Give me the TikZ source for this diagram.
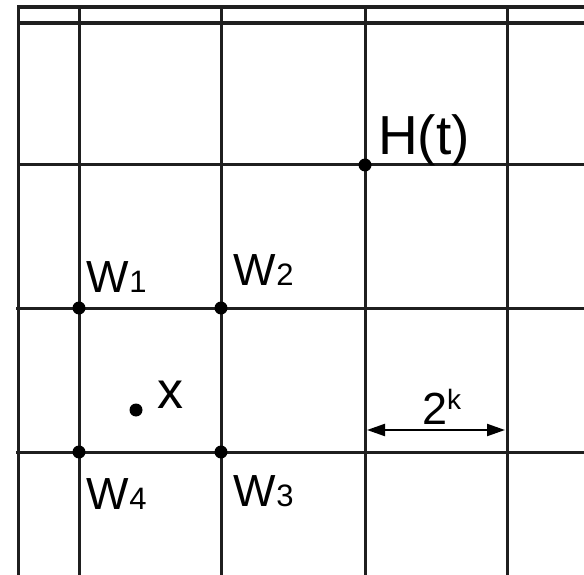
\documentclass[tikz,border=0pt]{standalone}
\usepackage{fontspec}
\setmainfont{Liberation Sans}
\usetikzlibrary{arrows.meta}
\begin{document}
\begin{tikzpicture}[x=1pt,y=-1pt,
  gridline/.style={line width=3.4pt, black!88},
  thinline/.style={line width=3pt, black!88},
  dotpt/.style={circle, fill=black, inner sep=0pt, minimum size=13pt},
  lbl/.style={anchor=base west, inner sep=0pt, outer sep=0pt},
  big/.style={font=\fontsize{45}{45}\selectfont},
  dimarrow/.style={line width=2.2pt, {Triangle[length=18pt,width=12pt]}-{Triangle[length=18pt,width=12pt]}},
]
\useasboundingbox (0,0) rectangle (584,575);
\fill[white] (0,0) rectangle (584,575);
% top double rule
\draw[gridline] (17,7) -- (584,7);
\draw[gridline] (17,23) -- (584,23);
% horizontal grid lines
\draw[thinline] (18,165) -- (584,165);
\draw[thinline] (16,308) -- (584,308);
\draw[thinline] (16,452) -- (584,452);
% vertical grid lines
\foreach \xx in {18,79,221,365,507}
  \draw[thinline] (\xx,5.5) -- (\xx,575);
% grid points
\node[dotpt] (h) at (365,165) {};
\node[dotpt] (w1) at (79,308) {};
\node[dotpt] (w2) at (221,308) {};
\node[dotpt] (w3) at (221,452) {};
\node[dotpt] (w4) at (79,452) {};
\node[dotpt] (xp) at (136,410) {};
% labels
\node[lbl, font=\fontsize{55}{55}\selectfont] (hl) at (378,155) {H(t)};
\node[lbl, big] (l1) at (86,292) {W\kern1pt\fontsize{31}{31}\selectfont 1};
\node[lbl, big] (l2) at (233,285) {W\kern1pt\fontsize{31}{31}\selectfont 2};
\node[lbl, big] (l4) at (86,509) {W\kern1pt\fontsize{31}{31}\selectfont 4};
\node[lbl, big] (l3) at (233,506) {W\kern1pt\fontsize{31}{31}\selectfont 3};
\node[lbl, font=\fontsize{52}{52}\selectfont] (xl) at (157,408) {x};
\node[lbl, big] (two) at (422,424) {2};
\node[lbl, font=\fontsize{28}{28}\selectfont] (kl) at (447,409) {k};
% dimension arrow
\coordinate (a1) at (367,430);
\coordinate (a2) at (505,430);
\draw[dimarrow] (a1) -- (a2);
\end{tikzpicture}
\end{document}
